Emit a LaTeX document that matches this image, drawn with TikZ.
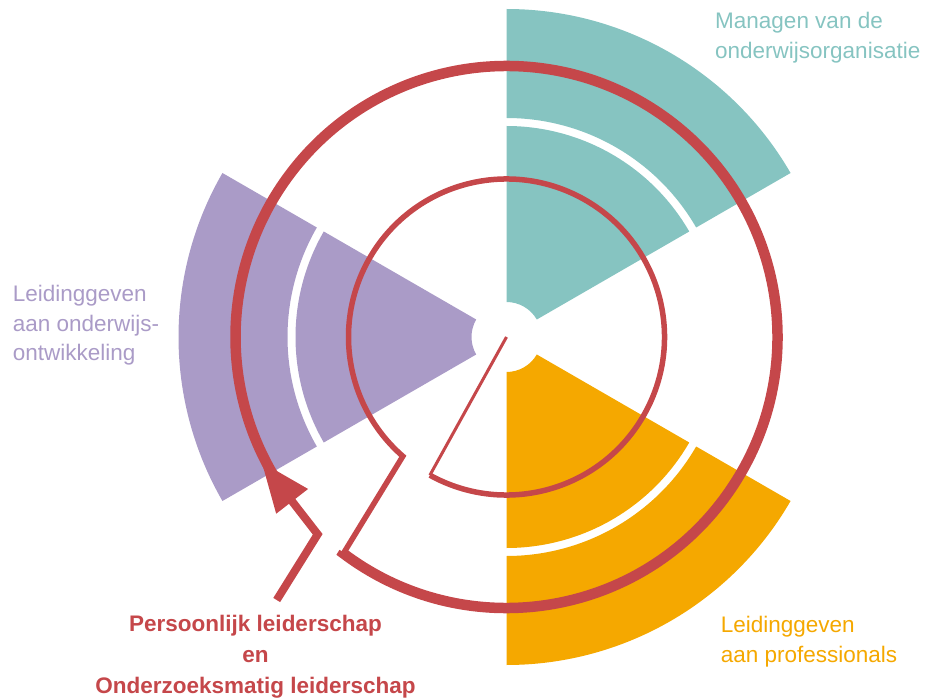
\documentclass[tikz,border=0pt]{standalone}
\usepackage{fontspec}
\setmainfont{Liberation Sans}
\usetikzlibrary{calc,arrows.meta}
\definecolor{tealc}{RGB}{134,196,193}
\definecolor{purplec}{RGB}{170,155,199}
\definecolor{orangec}{RGB}{245,168,0}
\definecolor{redc}{RGB}{197,71,74}
\begin{document}
\begin{tikzpicture}[x=1pt,y=1pt,
  lbl/.style={inner sep=0pt, align=left, font=\fontsize{22.5}{30}\selectfont},
  redline/.style={draw=redc, line join=miter},
  sectorfill/.style={fill=#1, draw=none}]
\useasboundingbox (0,0) rectangle (934,697);
\coordinate (C) at (506.5,360);
% sectors: inner sector and outer band
\foreach \a/\b/\c in {30/90/tealc,150/210/purplec,270/330/orangec}{
  \fill[sectorfill=\c, shift={(C)}] (\a:35) -- (\a:211) arc[start angle=\a, end angle=\b, radius=211]
     -- (\b:35) arc[start angle=\b, end angle=\a, radius=35] -- cycle;
  \fill[sectorfill=\c, shift={(C)}] (\a:219) -- (\a:328) arc[start angle=\a, end angle=\b, radius=328]
     -- (\b:219) arc[start angle=\b, end angle=\a, radius=219] -- cycle;
}
% red spiral path
\coordinate (ci) at ($(C)+(241:158)$);
\coordinate (zi) at ($(C)+(229:158)$);
\coordinate (co) at ($(C)+(233:271)$);
\draw[redline, line width=3pt] (C) -- (ci);
\draw[redline, line width=5.5pt] (ci) arc[start angle=241, end angle=589, radius=158] -- (co);
\draw[redline, line width=10.5pt] ($(co)!1pt!(zi)$) -- (co) arc[start angle=233, end angle=572, radius=271];
% arrow
\coordinate (as) at (276.7,97);
\coordinate (ab) at (317.7,162.7);
\coordinate (at) at ($(C)+(207:275)$);
\draw[redline, line width=8pt, -{Triangle[length=50pt,width=38pt]}] (as) -- (ab) -- (at);
% labels
\node[lbl, text=tealc, anchor=base west] (tl) at (715,638.7) {Managen van de\\onderwijsorganisatie};
\node[lbl, text=purplec, anchor=base west, font=\fontsize{22.5}{29.5}\selectfont] (pl) at (12.7,336.3) {Leidinggeven\\aan onderwijs-\\ontwikkeling};
\node[lbl, text=orangec, anchor=base west] (ol) at (720.7,34.7) {Leidinggeven\\aan professionals};
\node[lbl, align=center, text=redc, anchor=base, font=\fontsize{22.5}{31}\selectfont\bfseries] (rl) at (255.5,3.7) {Persoonlijk leiderschap\\en\\Onderzoeksmatig leiderschap};
\end{tikzpicture}
\end{document}
